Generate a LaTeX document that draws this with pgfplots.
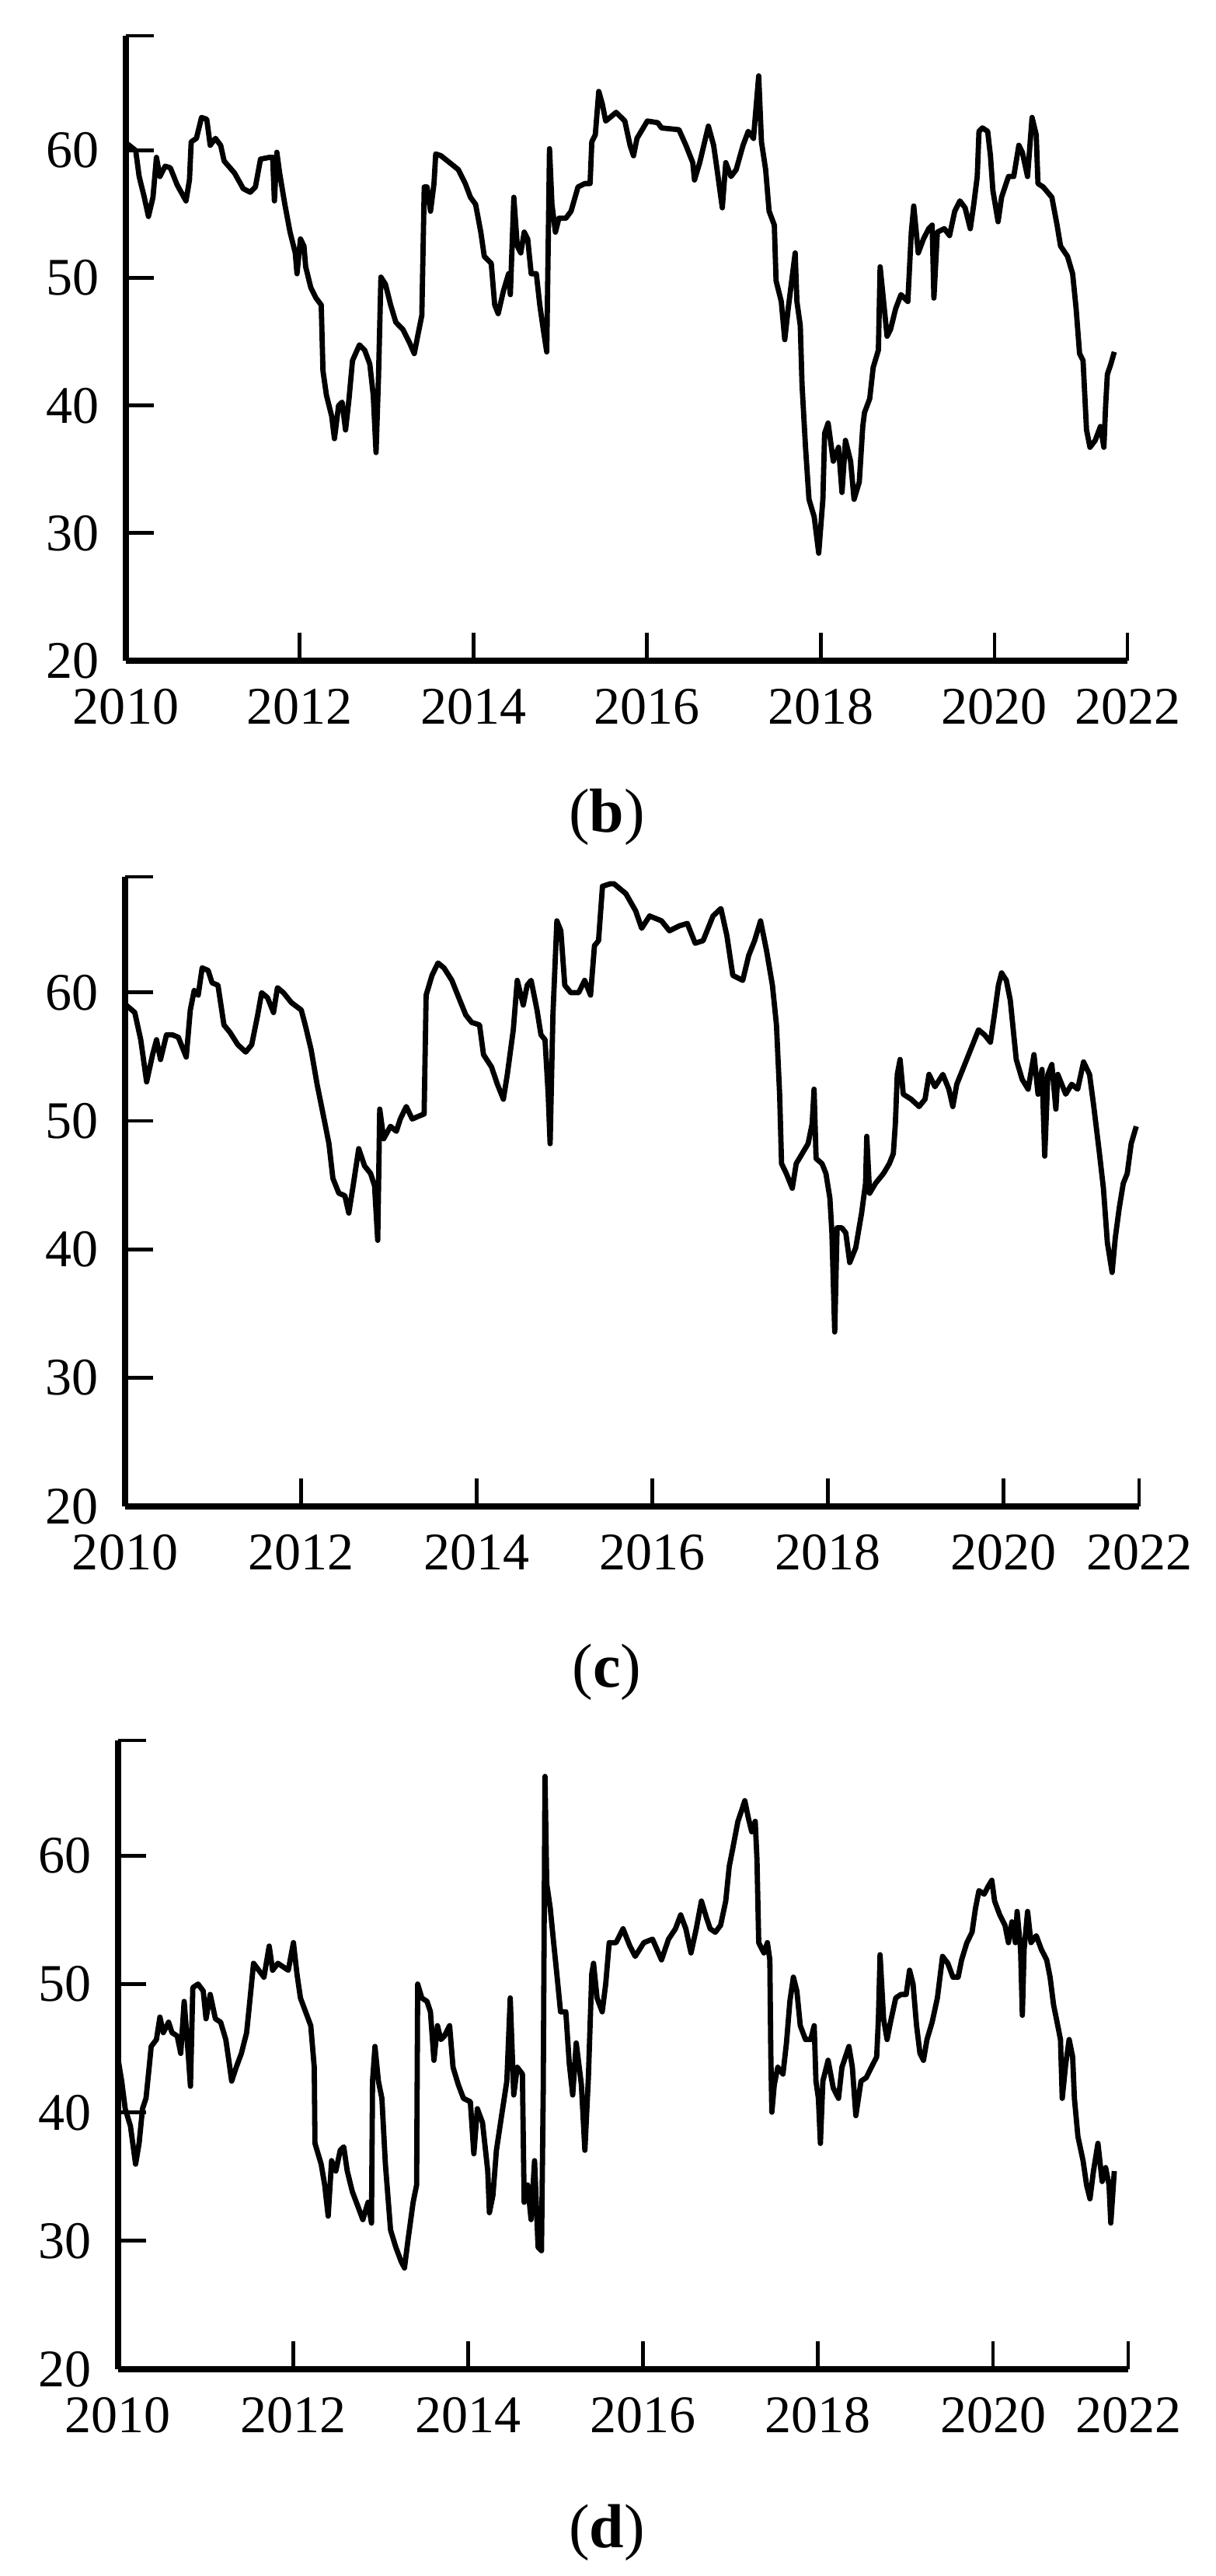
\documentclass[border=0pt]{standalone}
\usepackage{fontspec}
\setmainfont{Liberation Serif}
\usepackage{pgfplots}
\pgfplotsset{compat=1.18}

\pgfplotsset{
  panel/.style={
    scale only axis,
    anchor=south west,
    axis lines=left,
    axis line style={-, line width=1.8pt},
    tick style={black, line width=1.2pt},
    tick align=inside,
    major tick length=9pt,
    xmin=2010, ymin=20, ymax=69,
    ytick={20,30,40,50,60,69},
    yticklabels={20,30,40,50,60,{}},
    xticklabels={2010,2012,2014,2016,2018,2020,2022},
    ticklabel style={font=\fontsize{17}{20}\selectfont},
    xticklabel style={yshift=-5.5pt},
    yticklabel style={xshift=-5pt},
    /pgf/number format/assume math mode=true,
  },
  series/.style={black, line width=1.7pt, line join=round},
}

\begin{document}
\begin{tikzpicture}
\path[use as bounding box] (0,0) rectangle (391pt,828.5pt);

% (b)
\begin{axis}[panel, at={(40.5pt,616pt)}, width=322.25pt, height=201pt,
  xmax=2021.53, xtick={2010,2012,2014,2016,2018,2020,2021.53}]
\addplot[series] coordinates {
(2010.013,60.54) (2010.113,60.00) (2010.153,57.96) (2010.212,56.33) (2010.260,54.83)
(2010.312,56.33) (2010.352,59.46) (2010.392,57.96) (2010.452,58.77) (2010.512,58.64)
(2010.592,57.28) (2010.692,56.05) (2010.732,57.69) (2010.752,60.68) (2010.812,60.95)
(2010.871,62.59) (2010.931,62.45) (2010.971,60.41) (2011.031,60.95) (2011.091,60.41)
(2011.131,59.18) (2011.251,58.23) (2011.351,57.01) (2011.431,56.73) (2011.491,57.14)
(2011.550,59.32) (2011.650,59.46) (2011.690,59.46) (2011.710,56.05) (2011.738,59.86)
(2011.770,58.23) (2011.830,55.78) (2011.890,53.60) (2011.950,51.97) (2011.970,50.34)
(2012.010,53.06) (2012.050,52.51) (2012.070,50.88) (2012.129,49.25) (2012.189,48.43)
(2012.249,47.89) (2012.269,42.72) (2012.309,40.81) (2012.369,39.18) (2012.401,37.41)
(2012.449,40.00) (2012.489,40.27) (2012.529,38.09) (2012.569,40.54) (2012.609,43.53)
(2012.689,44.76) (2012.749,44.35) (2012.808,43.26) (2012.848,40.81) (2012.880,36.32)
(2012.908,42.17) (2012.936,50.07) (2012.988,49.52) (2013.048,47.89) (2013.108,46.53)
(2013.188,45.98) (2013.268,44.89) (2013.320,44.08) (2013.367,45.71) (2013.407,47.07)
(2013.435,57.14) (2013.467,57.14) (2013.507,55.24) (2013.547,57.41) (2013.567,59.73)
(2013.627,59.59) (2013.727,59.05) (2013.827,58.50) (2013.907,57.41) (2013.967,56.33)
(2014.026,55.78) (2014.086,53.60) (2014.126,51.70) (2014.206,51.15) (2014.246,47.89)
(2014.286,47.21) (2014.346,48.98) (2014.406,50.34) (2014.426,48.70) (2014.466,56.33)
(2014.506,52.51) (2014.546,51.97) (2014.586,53.60) (2014.626,53.06) (2014.666,50.34)
(2014.725,50.34) (2014.765,47.89) (2014.805,45.98) (2014.845,44.21) (2014.877,60.14)
(2014.905,55.78) (2014.945,53.60) (2014.985,54.69) (2015.065,54.69) (2015.125,55.24)
(2015.205,57.14) (2015.284,57.41) (2015.344,57.41) (2015.364,60.68) (2015.404,61.23)
(2015.444,64.63) (2015.484,63.67) (2015.524,62.31) (2015.644,62.99) (2015.744,62.31)
(2015.804,60.41) (2015.844,59.59) (2015.884,60.95) (2016.003,62.31) (2016.123,62.18)
(2016.167,61.77) (2016.367,61.63) (2016.447,60.41) (2016.526,59.05) (2016.546,57.69)
(2016.606,59.05) (2016.706,61.91) (2016.766,60.41) (2016.806,58.50) (2016.866,55.51)
(2016.906,59.05) (2016.966,57.96) (2017.026,58.50) (2017.105,60.41) (2017.165,61.50)
(2017.225,60.95) (2017.285,65.85) (2017.317,60.68) (2017.365,58.50) (2017.405,55.24)
(2017.465,54.15) (2017.485,49.79) (2017.545,48.16) (2017.585,45.17) (2017.625,47.62)
(2017.665,49.79) (2017.705,51.97) (2017.725,48.16) (2017.764,46.26) (2017.784,41.63)
(2017.824,36.73) (2017.864,32.65) (2017.924,31.28) (2017.976,28.43) (2018.024,32.65)
(2018.044,37.82) (2018.084,38.63) (2018.144,35.64) (2018.204,36.73) (2018.244,33.19)
(2018.284,37.27) (2018.343,35.64) (2018.383,32.65) (2018.443,34.01) (2018.483,38.36)
(2018.503,39.45) (2018.563,40.54) (2018.603,42.99) (2018.663,44.35) (2018.683,50.88)
(2018.723,48.16) (2018.763,45.44) (2018.803,45.98) (2018.863,47.62) (2018.923,48.70)
(2019.002,48.16) (2019.042,53.60) (2019.070,55.65) (2019.122,51.97) (2019.182,53.06)
(2019.242,53.87) (2019.282,54.15) (2019.302,48.43) (2019.342,53.60) (2019.422,53.87)
(2019.482,53.33) (2019.542,55.24) (2019.601,56.05) (2019.661,55.51) (2019.721,53.87)
(2019.761,55.78) (2019.801,57.96) (2019.821,61.50) (2019.861,61.77) (2019.921,61.50)
(2019.953,59.59) (2019.981,56.87) (2020.041,54.42) (2020.081,56.33) (2020.161,57.96)
(2020.221,57.96) (2020.280,60.41) (2020.320,59.86) (2020.380,57.96) (2020.432,62.59)
(2020.480,61.23) (2020.500,57.41) (2020.560,57.14) (2020.660,56.33) (2020.720,54.15)
(2020.760,52.51) (2020.840,51.70) (2020.899,50.34) (2020.939,47.62) (2020.979,44.08)
(2021.019,43.53) (2021.059,38.09) (2021.099,36.73) (2021.159,37.27) (2021.219,38.36)
(2021.259,36.73) (2021.279,40.00) (2021.299,42.45) (2021.339,43.26) (2021.379,44.21)
};
\end{axis}

% (c)
\begin{axis}[panel, at={(40.25pt,344pt)}, width=326.25pt, height=202.5pt,
  xmax=2021.54, xtick={2010,2012,2014,2016,2018,2020,2021.54}]
\addplot[series] coordinates {
(2010.011,59.02) (2010.110,58.44) (2010.178,56.32) (2010.245,53.04) (2010.313,55.16)
(2010.358,56.32) (2010.403,54.78) (2010.471,56.70) (2010.539,56.70) (2010.606,56.51)
(2010.696,54.97) (2010.742,58.63) (2010.787,60.17) (2010.832,59.79) (2010.877,61.91)
(2010.945,61.71) (2010.990,60.75) (2011.057,60.56) (2011.125,57.47) (2011.193,56.90)
(2011.283,55.93) (2011.373,55.36) (2011.441,55.93) (2011.509,58.25) (2011.554,59.98)
(2011.621,59.59) (2011.689,58.44) (2011.734,60.37) (2011.802,59.98) (2011.892,59.21)
(2012.005,58.63) (2012.050,57.47) (2012.117,55.55) (2012.185,52.85) (2012.253,50.54)
(2012.320,48.23) (2012.365,45.53) (2012.433,44.37) (2012.501,44.18) (2012.546,42.83)
(2012.591,44.76) (2012.659,47.84) (2012.726,46.49) (2012.794,45.91) (2012.839,44.95)
(2012.875,40.71) (2012.898,50.92) (2012.943,48.61) (2013.020,49.58) (2013.087,49.19)
(2013.132,50.15) (2013.200,51.12) (2013.268,50.15) (2013.335,50.35) (2013.403,50.54)
(2013.426,59.79) (2013.493,61.33) (2013.561,62.29) (2013.629,61.91) (2013.719,60.94)
(2013.809,59.40) (2013.877,58.25) (2013.944,57.67) (2014.034,57.47) (2014.079,55.16)
(2014.170,54.20) (2014.237,52.85) (2014.305,51.69) (2014.350,53.62) (2014.418,57.09)
(2014.463,60.94) (2014.531,59.02) (2014.576,60.56) (2014.621,60.94) (2014.688,58.63)
(2014.733,56.70) (2014.779,56.32) (2014.815,52.08) (2014.837,48.23) (2014.869,58.25)
(2014.914,65.57) (2014.959,64.80) (2015.004,60.56) (2015.072,59.98) (2015.162,59.98)
(2015.230,60.94) (2015.297,59.79) (2015.342,63.64) (2015.388,64.03) (2015.433,68.26)
(2015.523,68.46) (2015.563,68.46) (2015.699,67.69) (2015.811,66.34) (2015.879,64.99)
(2015.969,65.95) (2016.105,65.57) (2016.195,64.80) (2016.307,65.18) (2016.398,65.37)
(2016.488,63.83) (2016.578,64.03) (2016.691,65.95) (2016.781,66.53) (2016.849,64.41)
(2016.916,61.33) (2017.029,60.94) (2017.097,62.87) (2017.164,64.03) (2017.232,65.57)
(2017.300,63.26) (2017.367,60.56) (2017.413,57.47) (2017.449,52.08) (2017.471,46.68)
(2017.525,45.91) (2017.593,44.76) (2017.638,46.68) (2017.706,47.46) (2017.773,48.23)
(2017.819,49.77) (2017.841,52.47) (2017.864,47.07) (2017.931,46.68) (2017.976,45.91)
(2018.021,43.99) (2018.044,41.29) (2018.076,33.58) (2018.103,41.68) (2018.157,41.68)
(2018.202,41.29) (2018.247,38.98) (2018.315,40.13) (2018.382,42.83) (2018.427,45.14)
(2018.441,48.80) (2018.473,44.37) (2018.540,45.14) (2018.631,45.91) (2018.698,46.68)
(2018.743,47.46) (2018.766,49.77) (2018.788,53.62) (2018.820,54.78) (2018.856,52.08)
(2018.946,51.69) (2019.036,51.12) (2019.104,51.69) (2019.149,53.62) (2019.217,52.66)
(2019.307,53.62) (2019.375,52.47) (2019.420,51.12) (2019.465,52.85) (2019.533,54.01)
(2019.623,55.55) (2019.713,57.09) (2019.781,56.70) (2019.848,56.13) (2019.893,58.25)
(2019.939,60.56) (2019.975,61.52) (2020.029,60.94) (2020.074,59.40) (2020.142,54.78)
(2020.209,53.24) (2020.277,52.47) (2020.344,55.16) (2020.390,52.08) (2020.435,54.01)
(2020.466,47.26) (2020.502,53.62) (2020.547,54.39) (2020.593,50.92) (2020.615,53.62)
(2020.705,52.08) (2020.773,52.85) (2020.841,52.47) (2020.908,54.59) (2020.976,53.62)
(2021.021,51.31) (2021.089,47.46) (2021.134,44.76) (2021.179,40.52) (2021.233,38.21)
(2021.269,40.90) (2021.314,43.22) (2021.360,45.14) (2021.405,45.91) (2021.450,48.23)
(2021.508,49.58)
};
\end{axis}

% (d)
\begin{axis}[panel, at={(38pt,66.5pt)}, width=325pt, height=202.25pt,
  xmax=2021.545, xtick={2010,2012,2014,2016,2018,2020,2021.545}]
\addplot[series] coordinates {
(2010.002,44.07) (2010.041,42.45) (2010.081,40.30) (2010.141,38.95) (2010.200,35.98)
(2010.240,37.60) (2010.279,40.30) (2010.319,41.11) (2010.359,43.80) (2010.378,45.15)
(2010.438,45.69) (2010.478,47.44) (2010.517,46.23) (2010.577,47.04) (2010.616,46.23)
(2010.676,45.96) (2010.716,44.61) (2010.755,48.66) (2010.795,45.15) (2010.827,42.05)
(2010.854,49.74) (2010.914,50.01) (2010.973,49.47) (2011.005,47.31) (2011.053,49.20)
(2011.112,47.31) (2011.172,47.04) (2011.231,45.69) (2011.271,43.80) (2011.298,42.45)
(2011.350,43.53) (2011.409,44.61) (2011.469,46.23) (2011.509,48.93) (2011.548,51.63)
(2011.608,51.09) (2011.667,50.55) (2011.727,52.97) (2011.766,51.09) (2011.826,51.63)
(2011.885,51.36) (2011.945,51.09) (2012.004,53.24) (2012.044,50.82) (2012.084,48.93)
(2012.143,47.85) (2012.202,46.77) (2012.242,43.53) (2012.250,37.60) (2012.321,35.98)
(2012.361,34.36) (2012.401,31.93) (2012.440,36.25) (2012.488,35.44) (2012.539,37.06)
(2012.579,37.33) (2012.619,35.44) (2012.678,33.82) (2012.738,32.74) (2012.797,31.66)
(2012.857,33.01) (2012.896,31.39) (2012.908,42.45) (2012.936,45.15) (2012.975,42.45)
(2013.015,41.11) (2013.055,35.98) (2013.114,30.85) (2013.174,29.51) (2013.233,28.43)
(2013.273,27.89) (2013.313,30.05) (2013.372,33.01) (2013.412,34.36) (2013.424,50.01)
(2013.471,48.93) (2013.531,48.66) (2013.570,47.85) (2013.610,44.07) (2013.650,46.77)
(2013.689,45.69) (2013.729,45.96) (2013.789,46.77) (2013.828,43.53) (2013.888,42.18)
(2013.947,41.11) (2014.026,40.84) (2014.066,36.79) (2014.106,40.30) (2014.165,39.22)
(2014.225,35.44) (2014.244,32.20) (2014.284,33.55) (2014.324,37.06) (2014.383,39.76)
(2014.443,42.45) (2014.482,48.93) (2014.522,41.37) (2014.562,43.53) (2014.621,43.00)
(2014.641,33.01) (2014.681,34.36) (2014.720,31.66) (2014.760,36.25) (2014.800,29.51)
(2014.839,29.24) (2014.859,41.65) (2014.879,66.19) (2014.899,57.83) (2014.939,55.94)
(2014.978,53.24) (2015.018,50.55) (2015.057,47.85) (2015.117,47.85) (2015.157,43.80)
(2015.196,41.37) (2015.236,45.42) (2015.295,42.18) (2015.335,37.06) (2015.375,42.72)
(2015.414,50.82) (2015.434,51.63) (2015.474,48.93) (2015.533,47.85) (2015.573,50.01)
(2015.613,53.24) (2015.692,53.24) (2015.771,54.32) (2015.850,52.97) (2015.910,52.17)
(2016.009,53.24) (2016.108,53.51) (2016.211,51.90) (2016.291,53.51) (2016.370,54.32)
(2016.430,55.40) (2016.489,54.32) (2016.548,52.44) (2016.608,54.32) (2016.667,56.48)
(2016.727,55.13) (2016.767,54.32) (2016.826,54.05) (2016.886,54.59) (2016.945,56.48)
(2016.985,59.18) (2017.024,60.53) (2017.084,62.69) (2017.131,63.63) (2017.163,64.30)
(2017.203,62.96) (2017.242,61.88) (2017.282,62.69) (2017.302,59.72) (2017.322,53.24)
(2017.381,52.44) (2017.421,53.24) (2017.449,51.90) (2017.460,44.61) (2017.472,40.03)
(2017.500,42.18) (2017.540,43.53) (2017.599,43.00) (2017.639,45.42) (2017.678,48.66)
(2017.718,50.55) (2017.758,49.47) (2017.797,46.77) (2017.857,45.69) (2017.916,45.69)
(2017.956,46.77) (2017.976,42.45) (2018.004,41.11) (2018.027,37.60) (2018.055,42.45)
(2018.115,44.07) (2018.174,41.91) (2018.234,41.11) (2018.273,43.53) (2018.353,45.15)
(2018.392,43.53) (2018.432,39.76) (2018.491,42.45) (2018.551,42.72) (2018.610,43.53)
(2018.670,44.34) (2018.690,47.31) (2018.709,52.30) (2018.749,47.31) (2018.789,45.69)
(2018.828,47.04) (2018.888,48.93) (2018.947,49.20) (2019.007,49.20) (2019.046,51.09)
(2019.086,50.01) (2019.126,46.77) (2019.165,44.61) (2019.205,44.07) (2019.245,45.69)
(2019.304,47.04) (2019.364,48.93) (2019.423,52.17) (2019.483,51.63) (2019.542,50.55)
(2019.601,50.55) (2019.641,51.90) (2019.701,53.24) (2019.760,54.05) (2019.800,55.94)
(2019.839,57.29) (2019.899,57.02) (2019.939,57.56) (2019.986,58.10) (2020.018,56.48)
(2020.077,55.40) (2020.137,54.59) (2020.176,53.24) (2020.216,54.86) (2020.256,53.24)
(2020.275,55.67) (2020.315,52.70) (2020.335,47.58) (2020.355,52.70) (2020.395,55.67)
(2020.434,53.24) (2020.494,53.78) (2020.553,52.70) (2020.613,51.90) (2020.652,50.55)
(2020.692,48.39) (2020.732,47.04) (2020.771,45.69) (2020.791,41.11) (2020.831,43.80)
(2020.870,45.69) (2020.910,44.34) (2020.930,41.11) (2020.970,38.14) (2021.029,36.25)
(2021.069,34.36) (2021.108,33.28) (2021.148,35.44) (2021.199,37.60) (2021.247,34.63)
(2021.287,35.71) (2021.326,34.36) (2021.346,31.39) (2021.386,35.44)
};
\end{axis}

\node[font=\fontsize{20}{24}\selectfont] at (195.25pt,565.75pt) {(\textbf{b})};
\node[font=\fontsize{20}{24}\selectfont] at (195.25pt,290.75pt) {(\textbf{c})};
\node[font=\fontsize{20}{24}\selectfont] at (195.25pt,14pt) {(\textbf{d})};
\end{tikzpicture}
\end{document}
